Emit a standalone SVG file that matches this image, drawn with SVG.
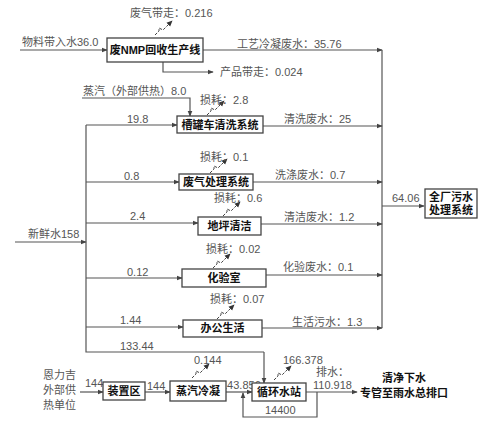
<svg xmlns="http://www.w3.org/2000/svg" xmlns:xlink="http://www.w3.org/1999/xlink" width="500" height="436" viewBox="0 0 500 436">
<style>
text{font-family:"Liberation Sans","Noto Sans CJK SC",sans-serif;font-size:11px;fill:#555}
.b{font-weight:bold;fill:#111;text-anchor:middle}
.box{fill:#fff;stroke:#444;stroke-width:1.3}
.ln{fill:none;stroke:#555;stroke-width:1.2}
.ar{marker-end:url(#ah)}
.zz{fill:none;stroke:#444;stroke-width:1;stroke-dasharray:3,1.5}
</style>
<defs>
<marker id="ah" viewBox="0 0 8 8" refX="7" refY="4" markerWidth="6" markerHeight="6" orient="auto" markerUnits="userSpaceOnUse">
<path d="M0,0.8 L8,4 L0,7.2 z" fill="#444"/>
</marker>
<marker id="ah2" viewBox="0 0 8 8" refX="7" refY="4" markerWidth="6" markerHeight="6" orient="auto" markerUnits="userSpaceOnUse">
<path d="M0,0.5 L8,4 L0,7.5 z" fill="#333"/>
</marker>
<path id="zz" d="M0,0 l4,-4 l0,-3 l4,2 l9,-9" class="zz" marker-end="url(#ah2)"/>
</defs>

<g id="connectors">
<!-- top line -->
<path class="ln ar" d="M20,50 H107"/>
<path class="ln ar" d="M203,50 H382"/>
<path class="ln ar" d="M163,62 V72 H213"/>
<path class="ln ar" d="M82,98 H190 V116"/>
<!-- collector -->
<path class="ln" d="M382,50 V328"/>
<path class="ln ar" d="M382,206 H424"/>
<!-- fresh water trunk -->
<path class="ln ar" d="M15,242 H86"/>
<path class="ln" d="M86,125 V352 H264"/>
<path class="ln ar" d="M264,352 V383"/>
<path class="ln ar" d="M86,125 H177"/>
<path class="ln ar" d="M86,182 H179"/>
<path class="ln ar" d="M86,223 H198"/>
<path class="ln ar" d="M86,278 H182"/>
<path class="ln ar" d="M86,327 H183"/>
<!-- outputs -->
<path class="ln ar" d="M263,126 H382"/>
<path class="ln ar" d="M253,182 H382"/>
<path class="ln ar" d="M261,224 H382"/>
<path class="ln ar" d="M266,275 H382"/>
<path class="ln ar" d="M262,328 H382"/>
<!-- bottom -->
<path class="ln ar" d="M80,392 H103"/>
<path class="ln ar" d="M145,392 H170"/>
<path class="ln ar" d="M226,392 H252"/>
<path class="ln ar" d="M306,392 H357"/>
<path class="ln ar" d="M317,392 V417 H243 V393"/>
<!-- losses -->
<use xlink:href="#zz" x="155" y="35"/>
<use xlink:href="#zz" x="207" y="115"/>
<use xlink:href="#zz" x="210" y="173"/>
<use xlink:href="#zz" x="223" y="216"/>
<use xlink:href="#zz" x="213" y="268"/>
<use xlink:href="#zz" x="217" y="319"/>
<use xlink:href="#zz" x="192" y="378"/>
<use xlink:href="#zz" x="274" y="380"/>
</g>

<g id="labels">
<text x="130" y="17">废气带走：0.216</text>
<text x="22" y="46">物料带入水36.0</text>
<text x="237" y="48">工艺冷凝废水：35.76</text>
<text x="220" y="76">产品带走：0.024</text>
<text x="83" y="95">蒸汽（外部供热）8.0</text>
<text x="200" y="104">损耗：2.8</text>
<text x="127" y="123">19.8</text>
<text x="284" y="123">清洗废水：25</text>
<text x="200" y="161">损耗：0.1</text>
<text x="124" y="180">0.8</text>
<text x="275" y="179">洗涤废水：0.7</text>
<text x="214" y="202">损耗：0.6</text>
<text x="130" y="220">2.4</text>
<text x="284" y="221">清洁废水：1.2</text>
<text x="28" y="238">新鲜水158</text>
<text x="206" y="253">损耗：0.02</text>
<text x="127" y="276">0.12</text>
<text x="283" y="271">化验废水：0.1</text>
<text x="210" y="303">损耗：0.07</text>
<text x="120" y="324">1.44</text>
<text x="292" y="326">生活污水：1.3</text>
<text x="392" y="202">64.06</text>
<text x="120" y="350">133.44</text>
<text x="43" y="379">恩力吉</text>
<text x="43" y="394">外部供</text>
<text x="43" y="409">热单位</text>
<text x="85" y="387">144</text>
<text x="147" y="390">144</text>
<text x="194" y="364">0.144</text>
<text x="221" y="389">143.856</text>
<text x="283" y="364">166.378</text>
<text x="316" y="376">排水：</text>
<text x="313" y="389">110.918</text>
<text x="265" y="414">14400</text>
<text class="b" x="404" y="382">清净下水</text>
<text class="b" x="404" y="397">专管至雨水总排口</text>
</g>

<g id="n1"><rect class="box" x="107" y="38" width="96" height="24"/><text class="b" x="155" y="54">废NMP回收生产线</text></g>
<g id="n2"><rect class="box" x="177" y="116" width="86" height="17"/><text class="b" x="220" y="129">槽罐车清洗系统</text></g>
<g id="n3"><rect class="box" x="179" y="174" width="74" height="16"/><text class="b" x="216" y="186">废气处理系统</text></g>
<g id="n4"><rect class="box" x="198" y="217" width="63" height="18"/><text class="b" x="229.5" y="230">地坪清洁</text></g>
<g id="n5"><rect class="box" x="182" y="269" width="84" height="18"/><text class="b" x="224" y="282">化验室</text></g>
<g id="n6"><rect class="box" x="183" y="320" width="79" height="17"/><text class="b" x="222.5" y="332">办公生活</text></g>
<g id="n7"><rect class="box" x="425" y="189" width="52" height="29"/><text class="b" x="451" y="201">全厂污水</text><text class="b" x="451" y="214">处理系统</text></g>
<g id="n8"><rect class="box" x="103" y="382" width="42" height="18"/><text class="b" x="124" y="395">装置区</text></g>
<g id="n9"><rect class="box" x="170" y="381" width="56" height="20"/><text class="b" x="198" y="395">蒸汽冷凝</text></g>
<g id="n10"><rect class="box" x="252" y="383" width="54" height="18"/><text class="b" x="279" y="396">循环水站</text></g>
</svg>
